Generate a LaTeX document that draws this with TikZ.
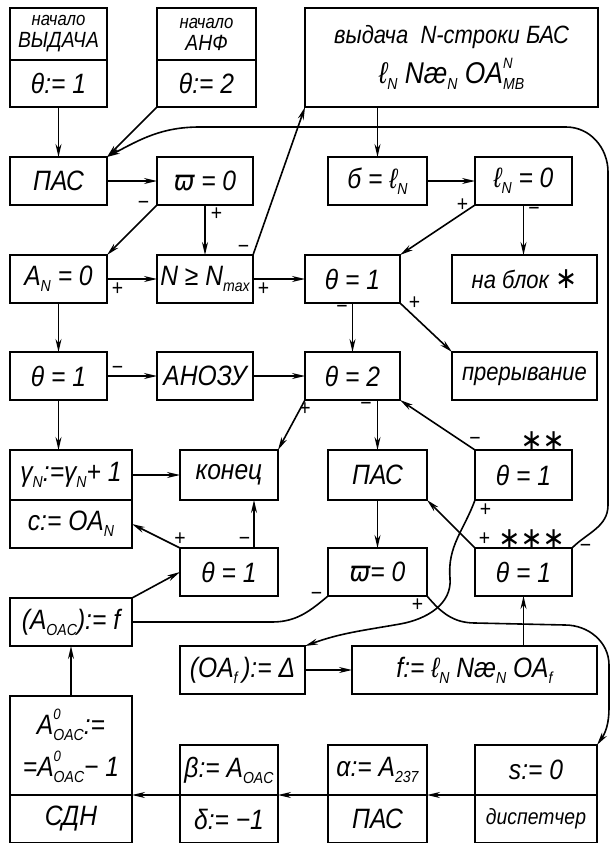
\documentclass[tikz,border=0pt]{standalone}
\usepackage{fontspec}
\setmainfont{Liberation Sans}[FakeStretch=0.88]
\newfontfamily\symfont{DejaVu Sans}[FakeStretch=0.88]
\usetikzlibrary{positioning,arrows.meta}
\newcommand{\sub}[1]{\raisebox{-6pt}{\fontsize{16}{16}\selectfont #1}}
\newcommand{\supsub}[2]{\makebox[0pt][l]{\raisebox{15pt}{\fontsize{15}{15}\selectfont #1}}\sub{#2}}
\newcommand{\lN}{ℓ\sub{N}}
\newcommand{\vpi}{{\symfont ϖ}}
\newcommand{\bigast}[1]{{\symfont\fontsize{30}{30}\selectfont #1}}

\begin{document}
\begin{tikzpicture}[
  x=1pt,y=1pt,
  font=\itshape\fontsize{28}{32}\selectfont,
  >={Stealth[length=13pt,width=6pt]},
  blk/.style={draw,line width=2pt,inner sep=2pt,outer sep=0pt,minimum height=48pt,align=center},
  hdr/.style={blk,minimum height=52pt,font=\itshape\fontsize{22}{22}\selectfont},
  wordy/.style={font=\itshape\fontsize{25}{28}\selectfont},
  flow/.style={->,line width=1.6pt},
  wire/.style={line width=1.6pt},
  sgn/.style={font=\fontsize{22}{22}\selectfont,inner sep=1pt},
]
\useasboundingbox (0,0) rectangle (612,-843);
% entry blocks and output
\node[hdr,minimum width=97pt] (nv) at (58.5,-34) {{\fontsize{19}{19}\selectfont начало}\\ВЫДАЧА};
\node[blk,minimum width=97pt,minimum height=47pt,below=0pt of nv] (nvset) {θ:= 1};
\node[hdr,minimum width=99pt,right=50pt of nv] (na) {{\fontsize{19}{19}\selectfont начало}\\АНФ};
\node[blk,minimum width=99pt,minimum height=47pt,below=0pt of na] (naset) {θ:= 2};
\node[blk,minimum width=293pt,minimum height=99pt,right=49pt of na.north east,anchor=north west] (out)
  {{\fontsize{25}{26}\selectfont выдача\ \ N-строки БАС}\\[8pt]{\fontsize{30}{32}\selectfont\lN\ Næ\sub{N} OA\supsub{N}{MB}}};
% row 2
\node[blk,minimum width=97pt,below=50pt of nvset] (pas) {ПАС};
\node[blk,minimum width=96pt,right=50pt of pas] (omega) {\vpi\ = 0};
\node[blk,minimum width=99pt,right=75pt of omega] (sl) {б = \lN};
\node[blk,minimum width=97pt,right=48pt of sl] (lz) {\lN\ = 0};
% row 3
\node[blk,minimum width=97pt,below=50pt of pas] (anz) {A\sub{N} = 0};
\node[blk,minimum width=96pt,right=50pt of anz] (nmax) {N ≥ N\sub{max}};
\node[blk,minimum width=95pt,right=52pt of nmax] (thrun) {θ = 1};
\node[blk,wordy,minimum width=145pt,right=52pt of thrun] (blok) {на блок \bigast{∗}};
% row 4
\node[blk,minimum width=97pt,below=49pt of anz] (thloop) {θ = 1};
\node[blk,minimum width=96pt,right=50pt of thloop] (anozu) {АНОЗУ};
\node[blk,minimum width=95pt,right=52pt of anozu] (thtwo) {θ = 2};
\node[blk,wordy,minimum width=145pt,right=52pt of thtwo] (prer) {прерывание};
% row 5
\node[blk,minimum width=122pt,minimum height=50pt,below=50pt of thloop.south west,anchor=north west] (gam) {γ\sub{N}:=γ\sub{N}+ 1};
\node[blk,minimum width=122pt,below=0pt of gam] (cset) {c:= OA\sub{N}};
\node[blk,minimum width=98pt,minimum height=50pt,right=48pt of gam] (kon) {конец};
\node[blk,minimum width=99pt,minimum height=50pt,right=50pt of kon] (pasm) {ПАС};
\node[blk,minimum width=97pt,minimum height=50pt,right=48pt of pasm] (thdbl) {θ = 1};
% row 6
\node[blk,minimum width=98pt,below=48pt of kon] (thlow) {θ = 1};
\node[blk,minimum width=99pt,right=50pt of thlow] (omegam) {\vpi = 0};
\node[blk,minimum width=97pt,right=48pt of omegam] (thtri) {θ = 1};
\node[blk,minimum width=122pt,below=50pt of cset] (aoac) {(A\sub{OAC}):= f};
% row 7
\node[blk,minimum width=125pt,below=50pt of thlow.south west,anchor=north west] (oaf) {(OA\sub{f}\,):= Δ};
\node[blk,minimum width=245pt,right=47pt of oaf] (fset) {f:= \lN\ Næ\sub{N} OA\sub{f}};
% row 8
\node[blk,minimum width=122pt,minimum height=99pt,below=50pt of aoac.south west,anchor=north west] (azero)
  {A\supsub{0}{OAC}:=\\[10pt]=A\supsub{0}{OAC}− 1};
\node[blk,minimum width=122pt,below=0pt of azero] (sdn) {СДН};
\node[blk,minimum width=98pt,minimum height=50pt,right=48pt of azero.south east,anchor=south west] (beta) {β:= A\sub{OAC}};
\node[blk,minimum width=98pt,below=0pt of beta] (delta) {δ:= −1};
\node[blk,minimum width=99pt,minimum height=50pt,right=50pt of beta] (alpha) {α:= A\sub{237}};
\node[blk,minimum width=99pt,below=0pt of alpha] (pasb) {ПАС};
\node[blk,minimum width=122pt,minimum height=50pt,right=48pt of alpha] (szero) {s:= 0};
\node[blk,minimum width=122pt,below=0pt of szero,font=\itshape\fontsize{22}{24}\selectfont] (disp) {диспетчер};
% flows
\draw[flow] (nvset) -- (pas);
\draw[flow] (naset.south west) -- (pas.north east);
\draw[flow] (thtri.north east) node[sgn,right=6pt]{−} to[out=45,in=-90] (608,-505) -- (608,-172)
  to[out=90,in=0] (566,-127) -- (200,-127) to[out=180,in=28] (pas.north east);
\draw[flow] (out.south -| sl.north) -- (sl.north);
\draw[flow] (nmax.north east) node[sgn,above left=0pt and 2pt]{−} -- (out.south west);
\draw[flow] (pas) -- (omega);
\draw[flow] (omega.south west) node[sgn,left=6pt]{−} -- (anz.north east);
\draw[flow] (omega.south) node[sgn,below right=1pt and 4pt]{+} -- (nmax.north);
\draw[flow] (anz.east) node[sgn,below right=2pt and 3pt]{+} -- (nmax.west);
\draw[flow] (nmax.east) node[sgn,below right=2pt and 3pt]{+} -- (thrun.west);
\draw[flow] (sl) -- (lz);
\draw[flow] (lz.south west) node[sgn,left=5pt]{+} -- (thrun.north east);
\draw[flow] (lz.south) node[sgn,below right=1pt and 3pt]{−} -- (lz.south |- blok.north);
\draw[flow] (thrun.south) node[sgn,below left=1pt and 3pt]{−} -- (thtwo.north);
\draw[flow] (thrun.south east) node[sgn,right=7pt]{+} -- (prer.north west);
\draw[flow] (anz) -- (thloop);
\draw[flow] (thloop.east) node[sgn,above right=0pt and 3pt]{−} -- (anozu.west);
\draw[flow] (anozu) -- (thtwo);
\draw[flow] (thloop.south) -- (thloop.south |- gam.north);
\draw[flow] (thtwo.south west) node[sgn,below=1pt]{+} -- (kon.north east);
\draw[flow] (pasm.north |- thtwo.south) node[sgn,below left=1pt and 4pt]{−} -- (pasm.north);
\draw[flow] (thdbl.north west) node[sgn,above=3pt]{−} -- (thtwo.south east);
\node[above left=-2pt and 6pt,inner sep=1pt] at (thdbl.north east) {\bigast{∗∗}};
\draw[flow] (gam) -- (kon);
\draw[flow] (thlow.north west) node[sgn,above=1pt]{+} -- (cset.east);
\draw[flow] ([xshift=-24pt]thlow.north east) node[sgn,above left=1pt and 2pt]{−} -- ([xshift=-24pt]kon.south east);
\draw[flow] (pasm) -- (omegam);
\draw[flow] (thtri.north west) node[sgn,above right=1pt and 2pt]{+} -- (pasm.south east);
\node[above left=-2pt and 6pt,inner sep=1pt] at (thtri.north east) {\bigast{∗∗∗}};
\draw[flow] (thdbl.south west) node[sgn,below right=2pt and 3pt]{+} to[out=-110,in=95] (450,-578)
  to[out=-85,in=10] (400,-624) to[out=190,in=20] (oaf.north east);
\draw[wire] (omegam.south west) node[sgn,left=4pt]{−} to[out=-140,in=0] (272,-622) -- (aoac.east);
\draw[flow] (omegam.south east) node[sgn,below left=1pt and 2pt]{+} to[out=-50,in=180] (475,-623) -- (565,-625)
  to[out=0,in=90] (609,-665) -- (609,-708) to[out=-90,in=55] (szero.north east);
\draw[flow] (aoac.north east) -- (thlow.west);
\draw[flow] (thtri.south |- fset.north) -- (thtri.south);
\draw[flow] (oaf) -- (fset);
\draw[flow] (azero) -- (aoac);
\draw[flow] (szero.south west) -- (alpha.south east);
\draw[flow] (alpha.south west) -- (beta.south east);
\draw[flow] (beta.south west) -- (azero.south east);
\end{tikzpicture}
\end{document}
